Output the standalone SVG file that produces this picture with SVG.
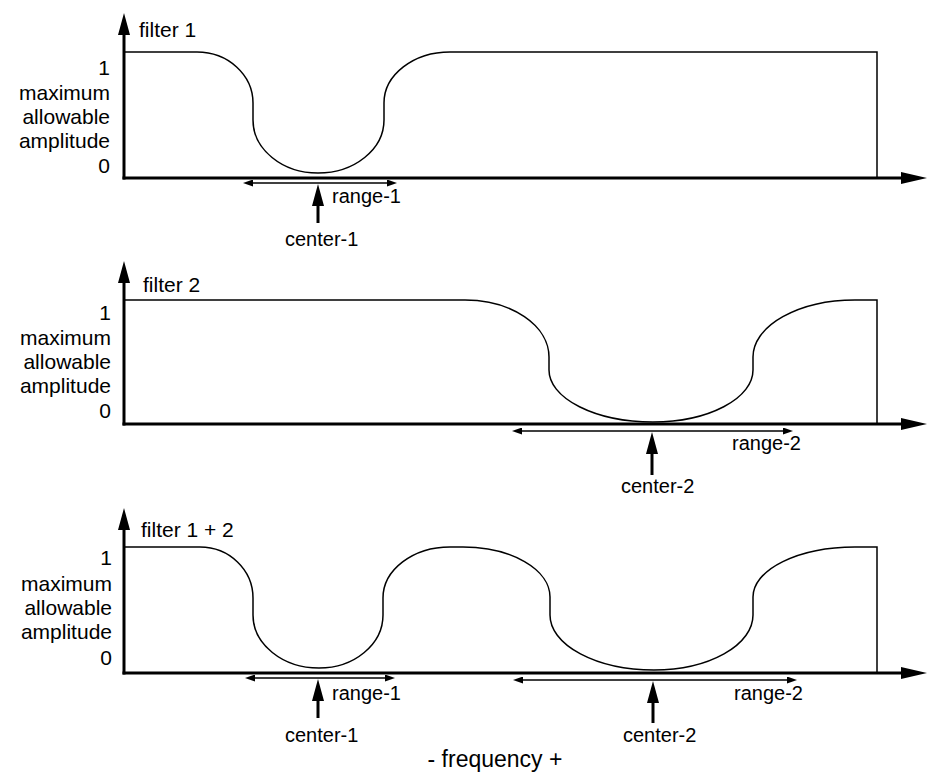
<svg xmlns="http://www.w3.org/2000/svg" width="928" height="783" viewBox="0 0 928 783">
<style>
  .bg { fill: #ffffff; }
  .axis { stroke: #000; stroke-width: 3; fill: none; }
  .curve { stroke: #000; stroke-width: 1.5; fill: none; }
  .range { stroke: #000; stroke-width: 1.5; fill: none; }
  .ptr { stroke: #000; stroke-width: 3; fill: none; }
  text { font-family: "Liberation Sans", Arial, Helvetica, sans-serif; font-size: 20px; fill: #000; }
  .ylab { text-anchor: end; font-size: 21px; }
  .title { font-size: 21px; }
  .big { font-size: 23px; text-anchor: middle; }
</style>
<defs>
  <marker id="xHead" markerUnits="userSpaceOnUse" markerWidth="26" markerHeight="12" refX="9" refY="6" orient="auto">
    <path d="M0,0 L26,6 L0,12 z" fill="#000"/>
  </marker>
  <marker id="yHead" markerUnits="userSpaceOnUse" markerWidth="22" markerHeight="12" refX="8" refY="6" orient="auto">
    <path d="M0,0 L22,6 L0,12 z" fill="#000"/>
  </marker>
  <marker id="rHead" markerUnits="userSpaceOnUse" markerWidth="10" markerHeight="7" refX="5" refY="3.5" orient="auto-start-reverse">
    <path d="M0,0 L10,3.5 L0,7 z" fill="#000"/>
  </marker>
  <marker id="cHead" markerUnits="userSpaceOnUse" markerWidth="22" markerHeight="12" refX="8" refY="6" orient="auto">
    <path d="M0,0 L22,6 L0,12 z" fill="#000"/>
  </marker>
</defs>
<rect class="bg" x="0" y="0" width="928" height="783"/>

<g id="panel-filter1">
  <path class="curve" d="M124,52 H197 A56,51 0 0 1 253,103 V120 A65,53 0 0 0 318,173 A66,53 0 0 0 384,120 V103 A66,51 0 0 1 450,52 H877 V178"/>
  <text class="title" x="139" y="37">filter 1</text>
  <text class="ylab" x="110" y="75">1</text>
  <text class="ylab" x="110" y="100">maximum</text>
  <text class="ylab" x="110" y="124">allowable</text>
  <text class="ylab" x="110" y="148">amplitude</text>
  <text class="ylab" x="110" y="173">0</text>
  <text x="332" y="203">range-1</text>
  <text x="285" y="246">center-1</text>
</g>

<g id="panel-filter2">
  <path class="curve" d="M124,300 H465 A84,57 0 0 1 549,357 V370 A104,52 0 0 0 653,422 A100,52 0 0 0 753,370 V357 A102,57 0 0 1 855,300 H877 V424"/>
  <text class="title" x="143" y="292">filter 2</text>
  <text class="ylab" x="111" y="320">1</text>
  <text class="ylab" x="111" y="345">maximum</text>
  <text class="ylab" x="111" y="369">allowable</text>
  <text class="ylab" x="111" y="393">amplitude</text>
  <text class="ylab" x="111" y="418">0</text>
  <text x="732" y="450">range-2</text>
  <text x="621" y="493">center-2</text>
</g>

<g id="panel-filter12">
  <path class="curve" d="M124,547 H200 A53,51 0 0 1 253,598 V615 A66,53 0 0 0 319,668 A64,53 0 0 0 383,615 V598 A67,51 0 0 1 450,547 H463 A87,50 0 0 1 550,597 V615 A104,55 0 0 0 654,670 A99,55 0 0 0 753,615 V597 A102,50 0 0 1 855,547 H877 V673"/>
  <text class="title" x="141" y="537">filter 1 + 2</text>
  <text class="ylab" x="112" y="565">1</text>
  <text class="ylab" x="112" y="591">maximum</text>
  <text class="ylab" x="112" y="615">allowable</text>
  <text class="ylab" x="112" y="639">amplitude</text>
  <text class="ylab" x="112" y="665">0</text>
  <text x="332" y="700">range-1</text>
  <text x="285" y="742">center-1</text>
  <text x="734" y="700">range-2</text>
  <text x="623" y="742">center-2</text>
  <text class="big" x="495" y="767">- frequency +</text>
</g>

<g id="connectors">
  <line class="axis" x1="124" y1="179.5" x2="124" y2="27" marker-end="url(#yHead)"/>
  <line class="axis" x1="122.5" y1="178" x2="910" y2="178" marker-end="url(#xHead)"/>
  <line class="axis" x1="124" y1="425.5" x2="124" y2="275" marker-end="url(#yHead)"/>
  <line class="axis" x1="122.5" y1="424" x2="910" y2="424" marker-end="url(#xHead)"/>
  <line class="axis" x1="124" y1="674.5" x2="124" y2="522" marker-end="url(#yHead)"/>
  <line class="axis" x1="122.5" y1="673" x2="910" y2="673" marker-end="url(#xHead)"/>

  <line class="range" x1="248" y1="183" x2="392" y2="183" marker-start="url(#rHead)" marker-end="url(#rHead)"/>
  <line class="range" x1="517" y1="431" x2="788" y2="431" marker-start="url(#rHead)" marker-end="url(#rHead)"/>
  <line class="range" x1="250" y1="678" x2="390" y2="678" marker-start="url(#rHead)" marker-end="url(#rHead)"/>
  <line class="range" x1="518" y1="680" x2="792" y2="680" marker-start="url(#rHead)" marker-end="url(#rHead)"/>

  <line class="ptr" x1="318" y1="223" x2="318" y2="198" marker-end="url(#cHead)"/>
  <line class="ptr" x1="652" y1="475" x2="652" y2="446" marker-end="url(#cHead)"/>
  <line class="ptr" x1="318" y1="718" x2="318" y2="693" marker-end="url(#cHead)"/>
  <line class="ptr" x1="653" y1="723" x2="653" y2="695" marker-end="url(#cHead)"/>
</g>
</svg>
